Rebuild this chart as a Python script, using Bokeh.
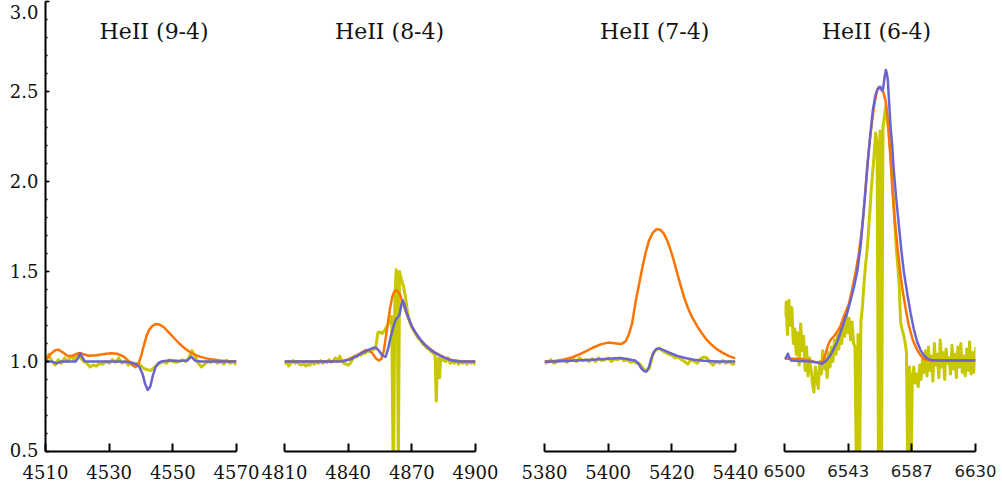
from bokeh.plotting import figure
from bokeh.layouts import row
from bokeh.models import Range1d, FixedTicker, NumeralTickFormatter, Label
from bokeh.embed import file_html
from bokeh.resources import INLINE

# ---------------- text / axes ----------------
titles = ["HeII (9-4)", "HeII (8-4)", "HeII (7-4)", "HeII (6-4)"]
x_limits = [(4510, 4570), (4810, 4900), (5380, 5440), (6500, 6630)]
x_ticks = [[4510, 4530, 4550, 4570],
           [4810, 4840, 4870, 4900],
           [5380, 5400, 5420, 5440],
           [6500, 6543.333, 6586.667, 6630]]
y_ticks = [0.5, 1.0, 1.5, 2.0, 2.5, 3.0]

# ---------------- panel 1 : HeII (9-4) ----------------
obs1_x = list(range(4510, 4571))
obs1_y = [0.99, 1.04, 1.00, 0.98, 1.01, 0.99, 1.02, 1.00, 1.03, 1.01,
          1.04, 1.02, 1.00, 0.99, 0.97, 0.98, 0.975, 0.99, 0.985, 1.00,
          0.99, 1.01, 0.995, 1.02, 0.99, 1.00, 0.98, 0.995, 0.985, 0.99,
          0.975, 0.96, 0.955, 0.95, 0.965, 0.98, 0.99, 1.00, 0.99, 1.01,
          1.00, 0.995, 1.00, 1.01, 1.00, 1.02, 1.06, 1.03, 0.99, 0.97,
          0.985, 1.00, 0.995, 1.01, 0.99, 1.00, 0.985, 1.005, 0.99, 1.00,
          0.98]
mod1a_x = [4510, 4511.5, 4513, 4514, 4515.5, 4517, 4518.5, 4520, 4521, 4522,
           4523.5, 4526, 4528.5, 4530.5, 4532.5, 4534.5, 4536, 4537.3, 4538.3, 4539.3,
           4540.2, 4540.9, 4541.7, 4542.5, 4543.5, 4544.6, 4545.8, 4547.2, 4548.8, 4550.3,
           4552, 4553.5, 4555, 4556.6, 4558.5, 4560.8, 4563, 4565, 4567.5, 4570]
mod1a_y = [1.005, 1.04, 1.062, 1.066, 1.05, 1.03, 1.032, 1.044, 1.047, 1.04,
           1.032, 1.035, 1.042, 1.046, 1.043, 1.028, 1.005, 0.98, 0.968, 0.99,
           1.04, 1.09, 1.14, 1.173, 1.197, 1.208, 1.205, 1.19, 1.16, 1.132,
           1.1, 1.077, 1.057, 1.04, 1.027, 1.016, 1.01, 1.006, 1.003, 1.001]
mod1b_x = [4510, 4512, 4513.5, 4515, 4517, 4519.5, 4520.3, 4520.9, 4521.5, 4522.3,
           4524, 4528, 4532, 4535.5, 4537, 4538.5, 4539.5, 4540.5, 4541.3, 4542.1,
           4542.9, 4543.7, 4544.6, 4545.5, 4546.5, 4548, 4550, 4552, 4554.5, 4555.3,
           4555.8, 4556.4, 4557.2, 4559, 4562, 4566, 4570]
mod1b_y = [1.0, 1.0, 0.99, 1.0, 1.0, 1.0, 1.02, 1.046, 1.025, 1.002,
           1.0, 1.0, 1.0, 0.998, 0.993, 0.985, 0.97, 0.93, 0.875, 0.842,
           0.86, 0.92, 0.97, 0.992, 1.0, 1.004, 1.006, 1.003, 1.005, 1.018,
           1.028, 1.015, 1.003, 1.0, 1.0, 1.0, 1.0]

# ---------------- panel 2 : HeII (8-4) ----------------
obs2_x = (list(range(4810, 4861))
          + [4860.5, 4861.3, 4862.0, 4862.6, 4863.2, 4863.6, 4864.2, 4865.0]
          + list(range(4866, 4882))
          + [4881.5, 4882.0, 4882.6, 4883.1, 4883.6]
          + list(range(4884, 4901)))
obs2_y = ([0.985, 1.00, 0.975, 0.99, 1.005, 0.99, 1.00, 0.985, 0.98, 0.99,
           0.975, 0.985, 0.98, 0.995, 0.985, 1.00, 0.99, 1.005, 0.99, 1.00,
           0.995, 1.01, 0.995, 1.005, 1.02, 1.00, 1.03, 1.005, 0.99, 0.985,
           0.98, 0.99, 1.01, 1.03, 1.025, 1.04, 1.035, 1.05, 1.045, 1.06,
           1.055, 1.07, 1.065, 1.08, 1.16, 1.165, 1.155, 1.17, 1.19, 1.21,
           1.23]
          + [1.25, 0.3, 1.33, 1.51, 1.47, 0.3, 1.5, 1.46]
          + [1.42, 1.36, 1.27, 1.22, 1.19, 1.17, 1.15, 1.13, 1.12, 1.10,
             1.09, 1.075, 1.07, 1.055, 1.05, 1.03]
          + [0.78, 0.96, 1.02, 0.91, 1.02]
          + [1.015, 1.005, 1.00, 1.02, 0.99, 1.00, 0.99, 1.005, 0.985, 1.00,
             0.99, 1.00, 0.985, 1.00, 0.99, 1.00, 0.98])
mod2a_x = [4810, 4820, 4830, 4837, 4840, 4842.5, 4845, 4847, 4848.5, 4850,
           4851.5, 4853, 4854.5, 4855.7, 4856.8, 4857.8, 4858.8, 4859.8, 4860.8, 4861.8,
           4862.6, 4863.5, 4864.5, 4865.5, 4866.8, 4868.5, 4870.2, 4872, 4874.1, 4876.5,
           4878.8, 4881, 4883.5, 4886, 4888.2, 4891, 4895, 4900]
mod2a_y = [1.0, 1.0, 1.0, 1.003, 1.012, 1.025, 1.04, 1.055, 1.064, 1.062,
           1.045, 1.018, 1.005, 1.015, 1.06, 1.14, 1.22, 1.3, 1.36, 1.39,
           1.395, 1.39, 1.37, 1.335, 1.29, 1.235, 1.19, 1.155, 1.12, 1.09,
           1.068, 1.05, 1.033, 1.02, 1.01, 1.004, 1.0, 1.0]
mod2b_x = [4810, 4820, 4830, 4838, 4841, 4844, 4846.5, 4849, 4851, 4852.9,
           4854.5, 4856, 4857.6, 4858.8, 4860, 4861.5, 4862.5, 4863.4, 4864.2, 4865,
           4865.7, 4866.4, 4867.3, 4868.5, 4870, 4872, 4874, 4876, 4878.5, 4881,
           4883.5, 4886, 4889, 4892, 4896, 4900]
mod2b_y = [1.0, 1.0, 1.0, 1.002, 1.012, 1.03, 1.047, 1.062, 1.072, 1.078,
           1.06, 1.035, 1.025, 1.07, 1.135, 1.2, 1.235, 1.245, 1.26, 1.31,
           1.34, 1.32, 1.28, 1.24, 1.195, 1.155, 1.122, 1.095, 1.068, 1.048,
           1.032, 1.018, 1.005, 1.0, 1.0, 1.0]

# ---------------- panel 3 : HeII (7-4) ----------------
obs3_x = list(range(5380, 5441))
obs3_y = [0.99, 0.995, 1.01, 0.99, 1.00, 1.005, 1.01, 0.995, 1.01, 1.015,
          1.00, 1.02, 1.005, 1.01, 1.00, 1.015, 1.00, 1.02, 1.005, 1.01,
          1.02, 1.00, 1.015, 1.01, 1.02, 1.005, 1.01, 0.995, 1.00, 0.99,
          0.985, 0.96, 0.945, 0.965, 1.04, 1.065, 1.075, 1.06, 1.05, 1.04,
          1.035, 1.02, 1.025, 1.01, 1.00, 0.985, 1.01, 1.00, 0.99, 1.015,
          1.025, 1.02, 0.995, 0.98, 1.00, 0.99, 1.005, 0.99, 1.00, 0.985,
          0.99]
mod3a_x = [5380, 5383, 5386, 5389, 5392, 5395, 5397.6, 5400, 5402, 5404,
           5405.4, 5406.5, 5407.5, 5408.6, 5409.6, 5410.6, 5411.7, 5412.8, 5414, 5415.2,
           5416.3, 5417.5, 5418.6, 5419.7, 5420.7, 5421.7, 5422.8, 5423.8, 5425, 5426.4,
           5428, 5429.5, 5431, 5432.5, 5434, 5436, 5438, 5440]
mod3a_y = [1.0, 1.003, 1.01, 1.025, 1.048, 1.075, 1.095, 1.105, 1.102, 1.097,
           1.11, 1.15, 1.21, 1.33, 1.42, 1.51, 1.6, 1.67, 1.715, 1.735,
           1.732, 1.71, 1.67, 1.615, 1.555, 1.49, 1.42, 1.36, 1.3, 1.245,
           1.195, 1.155, 1.12, 1.093, 1.07, 1.048, 1.03, 1.017]
mod3b_x = [5380, 5385, 5390, 5395, 5400, 5403.5, 5406, 5407.5, 5408.5, 5409.5,
           5410.3, 5411.2, 5412, 5412.8, 5413.6, 5414.4, 5415.2, 5416.2, 5417.2, 5418.5,
           5420, 5422, 5424.5, 5427, 5430, 5434, 5440]
mod3b_y = [0.998, 1.002, 1.006, 1.01, 1.015, 1.02, 1.014, 1.008, 1.005, 0.99,
           0.965, 0.947, 0.945, 0.968, 1.02, 1.055, 1.07, 1.072, 1.065, 1.055,
           1.043, 1.03, 1.018, 1.01, 1.004, 1.0, 1.0]

# ---------------- panel 4 : HeII (6-4) ----------------
obs4_x = list(range(6500, 6631))
obs4_y = [1.25, 1.33, 1.15, 1.34, 1.20, 1.30, 1.10, 1.18, 1.04, 1.16,
          0.98, 1.21, 1.06, 1.14, 0.95, 1.08, 0.92, 1.02, 0.96, 0.88,
          0.83, 0.97, 0.90, 0.85, 1.00, 0.93, 1.06, 0.96, 1.02, 0.91,
          1.05, 0.97, 1.08, 1.00, 1.12, 1.04, 1.15, 1.07, 1.18, 1.10,
          1.23, 1.14, 1.26, 1.16, 1.24, 1.12, 1.22, 1.10, 1.08, 0.30,
          1.15, 0.30, 1.22, 1.30, 1.42, 1.52, 1.60, 1.70, 1.82, 1.95,
          2.05, 2.15, 2.27, 2.22, 0.30, 2.28, 0.30, 2.30, 2.36, 2.42,
          2.34, 2.27, 2.18, 2.08, 1.92, 1.78, 1.64, 1.54, 1.44, 1.22,
          1.18, 1.15, 1.11, 1.05, 0.30, 0.97, 0.30, 0.92, 0.97, 0.88,
          0.93, 0.86, 0.98, 0.90, 1.02, 0.94, 1.06, 0.92, 1.08, 0.95,
          1.03, 0.89, 1.10, 0.98, 1.04, 0.91, 1.12, 0.97, 1.05, 0.90,
          1.07, 0.99, 1.02, 0.93, 1.09, 0.96, 1.04, 0.91, 1.08, 0.97,
          1.10, 0.94, 1.03, 0.92, 1.07, 0.95, 1.11, 0.93, 1.05, 0.94,
          1.08]
mod4a_x = [6500, 6505, 6510.5, 6517.7, 6521, 6524.5, 6526.2, 6527.9, 6529.6, 6531.3,
           6533.6, 6535.9, 6538.2, 6540.4, 6543.8, 6546, 6548.3, 6550.6, 6552.9, 6554.6,
           6556.3, 6558, 6559.7, 6561.4, 6563.1, 6564.5, 6565.8, 6567.3, 6568.7, 6569.9,
           6571, 6572.2, 6573.3, 6575, 6576.7, 6578.4, 6580.1, 6582.3, 6584.6, 6587.5,
           6590.3, 6592.5, 6594.8, 6597, 6599.4, 6610, 6630]
mod4a_y = [1.015, 1.015, 1.015, 1.005, 0.997, 0.991, 1.005, 1.04, 1.09, 1.12,
           1.14, 1.165, 1.2, 1.25, 1.32, 1.4, 1.49, 1.6, 1.748, 1.9,
           2.082, 2.22, 2.342, 2.44, 2.509, 2.52, 2.513, 2.495, 2.453, 2.38,
           2.268, 2.12, 1.971, 1.79, 1.65, 1.52, 1.41, 1.30, 1.2, 1.115,
           1.065, 1.035, 1.015, 1.008, 1.006, 1.005, 1.005]
mod4b_x = [6500, 6501.3, 6502.3, 6503.3, 6504.5, 6510, 6517.7, 6522, 6525.6, 6528.5,
           6531.3, 6533.5, 6535.9, 6539.3, 6542.7, 6545, 6547.2, 6549.5, 6551.7, 6553.4,
           6555.1, 6556.8, 6558.5, 6560.2, 6561.9, 6563.2, 6564.2, 6565.2, 6566.0, 6566.7,
           6567.2, 6568.1, 6569.0, 6569.7, 6570.3, 6571.2, 6572.2, 6573.3, 6574.4, 6576.1,
           6577.8, 6579.5, 6581.2, 6583.5, 6585.8, 6588, 6590.3, 6592.5, 6594.8, 6597,
           6599.4, 6605, 6615, 6630]
mod4b_y = [1.015, 1.025, 1.043, 1.02, 1.005, 1.003, 1.0, 0.995, 0.988, 1.005,
           1.035, 1.07, 1.11, 1.19, 1.27, 1.34, 1.41, 1.5, 1.636, 1.79,
           1.95, 2.12, 2.27, 2.4, 2.48, 2.51, 2.524, 2.526, 2.51, 2.505,
           2.52, 2.58, 2.62, 2.6, 2.565, 2.44, 2.305, 2.2, 2.06, 1.9,
           1.76, 1.62, 1.5, 1.38, 1.27, 1.18, 1.11, 1.065, 1.035, 1.018,
           1.008, 1.005, 1.005, 1.005]

obs_x = [obs1_x, obs2_x, obs3_x, obs4_x]
obs_y = [obs1_y, obs2_y, obs3_y, obs4_y]
moda_x = [mod1a_x, mod2a_x, mod3a_x, mod4a_x]
moda_y = [mod1a_y, mod2a_y, mod3a_y, mod4a_y]
modb_x = [mod1b_x, mod2b_x, mod3b_x, mod4b_x]
modb_y = [mod1b_y, mod2b_y, mod3b_y, mod4b_y]

# ---------------- layout / style (not data) ----------------
fig_widths = [260, 250, 250, 242]
border_left = [45, 24, 34, 24]
border_right = [24, 35, 25, 27]
title_x = [4544.1, 4859.5, 5414.6, 6562.6]
title_y = 2.835
OBS_COLOR = "#c8c800"
ORANGE = "#ff7300"
BLUE = "#6a64d0"
SERIF = "DejaVu Serif"
TXT = "#111111"

panels = []
for i in range(4):
    p = figure(width=fig_widths[i], height=488,
               x_range=Range1d(*x_limits[i]), y_range=Range1d(0.5, 3.0),
               output_backend="svg", toolbar_location=None,
               min_border_left=border_left[i], min_border_right=border_right[i],
               min_border_top=1, min_border_bottom=37,
               y_axis_location="left" if i == 0 else None)
    p.outline_line_color = None
    p.grid.visible = False

    xa = p.xaxis[0]
    xa.ticker = FixedTicker(ticks=x_ticks[i])
    xa.formatter = NumeralTickFormatter(format="0")
    xa.axis_line_width = 2
    xa.axis_line_color = "black"
    xa.major_tick_line_width = 2
    xa.major_tick_line_color = "black"
    xa.major_tick_in = 8
    xa.major_tick_out = 0
    xa.minor_tick_line_color = None
    xa.major_label_standoff = 13
    xa.major_label_text_color = TXT
    if i == 3:
        xa.major_label_text_font = "DejaVu Sans"
        xa.major_label_text_font_size = "16.5px"
        xa.major_label_text_color = "#222222"
    else:
        xa.major_label_text_font = SERIF
        xa.major_label_text_font_size = "18px"

    if i == 0:
        ya = p.yaxis[0]
        ya.ticker = FixedTicker(ticks=y_ticks,
                                minor_ticks=[round(0.5 + 0.1 * k, 1) for k in range(26)])
        ya.formatter = NumeralTickFormatter(format="0.0")
        # end labels nudged inwards (as in the original) via a blank extra line
        ya.major_label_overrides = {0.5: "0.5\n ", 3: " \n3.0"}
        ya.major_label_text_line_height = 0.05
        ya.axis_line_width = 2
        ya.axis_line_color = "black"
        ya.major_tick_in = 4
        ya.major_tick_out = 0
        ya.major_tick_line_width = 1.5
        ya.minor_tick_in = 2
        ya.minor_tick_out = 0
        ya.minor_tick_line_width = 1.5
        ya.minor_tick_line_color = "black"
        ya.major_label_standoff = 7
        ya.major_label_text_font = SERIF
        ya.major_label_text_font_size = "18px"
        ya.major_label_text_color = TXT

    p.line(obs_x[i], obs_y[i], line_color=OBS_COLOR, line_width=3, line_join="round")
    p.line(moda_x[i], moda_y[i], line_color=ORANGE, line_width=2.5, line_join="round")
    p.line(modb_x[i], modb_y[i], line_color=BLUE, line_width=2.5, line_join="round")

    p.add_layout(Label(x=title_x[i], y=title_y, text=titles[i],
                       text_align="center", text_baseline="middle",
                       text_font=SERIF, text_font_size="22px", text_color=TXT))
    panels.append(p)

layout = row(*panels, spacing=0)
open("out.html", "w").write(file_html(layout, INLINE))
